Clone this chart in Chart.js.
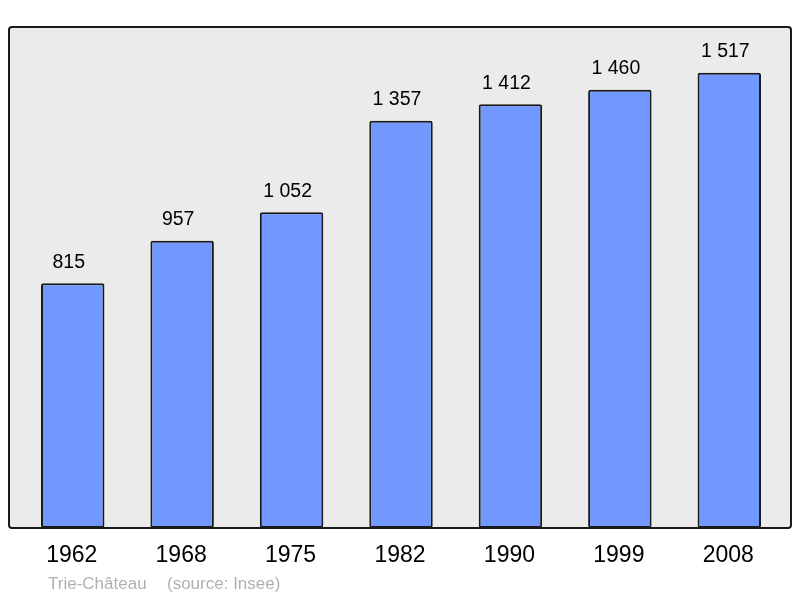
<!DOCTYPE html>
<html>
<head>
<meta charset="utf-8">
<script src="https://cdn.jsdelivr.net/npm/chart.js@4/dist/chart.umd.min.js"></script>
<style>
  body { margin: 0; background: #fff; }
  canvas { display: block; }
</style>
</head>
<body>
<canvas id="chart" width="800" height="598"></canvas>
<script>
const years = ["1962", "1968", "1975", "1982", "1990", "1999", "2008"];
const population = [815, 957, 1052, 1357, 1412, 1460, 1517];
const valueLabels = ["815", "957", "1 052", "1 357", "1 412", "1 460", "1 517"];
const yMax = 1669;

// grey frame behind the bars, year labels and value labels
const framePlugin = {
  id: "frame",
  beforeDraw(chart) {
    const ctx = chart.ctx;
    ctx.save();
    ctx.fillStyle = "#ebebeb";
    ctx.beginPath();
    ctx.roundRect(9, 27, 782, 501, 3);
    ctx.fill();
    ctx.restore();
  },
  afterDatasetsDraw(chart) {
    const ctx = chart.ctx;
    const x = chart.scales.x;
    const meta = chart.getDatasetMeta(0);
    ctx.save();
    ctx.strokeStyle = "#1a1a1a";
    ctx.lineWidth = 2;
    ctx.beginPath();
    ctx.roundRect(9, 27, 782, 501, 3);
    ctx.stroke();

    ctx.fillStyle = "#000";
    ctx.textAlign = "center";
    ctx.textBaseline = "middle";
    ctx.font = "19.5px 'Liberation Sans', Arial, sans-serif";
    meta.data.forEach((bar, i) => {
      ctx.fillText(valueLabels[i], bar.x - 4, bar.y - 21);
    });

    ctx.font = "23px 'Liberation Sans', Arial, sans-serif";
    years.forEach((y, i) => {
      ctx.fillText(y, x.getPixelForValue(i) - 1, 556);
    });

    ctx.textAlign = "left";
    ctx.fillStyle = "#b0b0b0";
    ctx.font = "17px 'Liberation Sans', Arial, sans-serif";
    ctx.fillText("Trie-Château", 48, 584);
    ctx.fillText("(source: Insee)", 167, 584);
    ctx.restore();
  }
};

new Chart(document.getElementById("chart").getContext("2d"), {
  type: "bar",
  data: {
    labels: years,
    datasets: [
      {
        data: population,
        backgroundColor: "#7098ff",
        borderColor: "#1a1a1a",
        borderWidth: 2,
        borderRadius: 2,
        borderSkipped: false,
        categoryPercentage: 1,
        barPercentage: 0.58,
      },
    ],
  },
  options: {
    responsive: false,
    animation: false,
    layout: {
      padding: { left: 18, right: 16, top: 27, bottom: 70 },
    },
    plugins: {
      legend: { display: false },
      tooltip: { enabled: false },
    },
    scales: {
      x: { display: false },
      y: { display: false, min: 0, max: yMax },
    },
  },
  plugins: [framePlugin],
});
</script>
</body>
</html>
